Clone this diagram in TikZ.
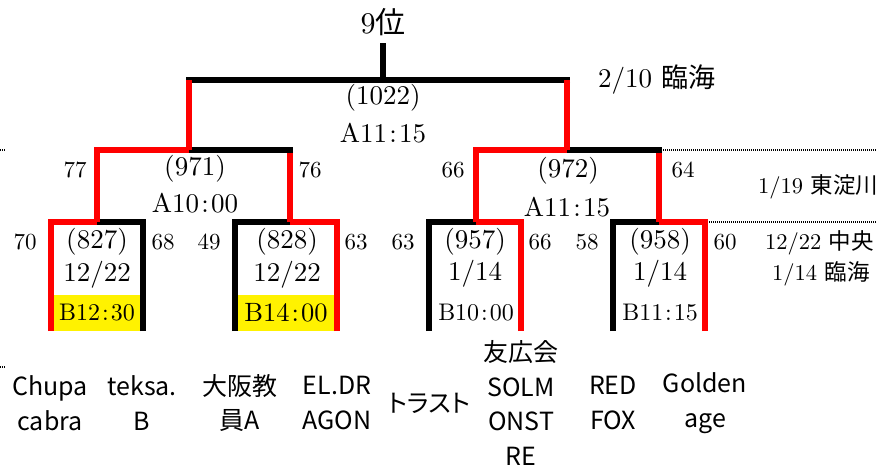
\documentclass[tikz,border=0pt]{standalone}
\usepackage{fontspec}
\setmainfont{lmroman10-regular.otf}
\newfontfamily\kanji{Noto Sans CJK JP}
\newfontfamily\teamfont[RawFeature=+palt]{Noto Sans CJK JP}
\usetikzlibrary{positioning}

\begin{document}
\begin{tikzpicture}[x=1pt, y=-1pt]

% Define styles
\tikzstyle{win} = [draw=red, line width=6pt]
\tikzstyle{lose} = [draw=black, line width=6pt]
\tikzstyle{rimline} = [draw=black, line width=1.4pt, dash pattern=on 1pt off 1pt]
\tikzstyle{score} = [font=\fontsize{23}{27}\selectfont, inner sep=0pt]
\tikzstyle{matchno} = [font=\fontsize{27}{32}\selectfont, inner sep=0pt]
\tikzstyle{slot} = [font=\fontsize{24}{28}\selectfont, inner sep=0pt]
\tikzstyle{early} = [fill=yellow, minimum height=36pt, inner sep=0pt]
\tikzstyle{venue} = [font=\fontsize{22.5}{27}\selectfont, anchor=west, inner sep=0pt]
\tikzstyle{team} = [font=\teamfont\fontsize{25}{34.5}\selectfont, align=center, inner sep=0pt]

\useasboundingbox (0,0) rectangle (877,467);

% Bracket points
\coordinate (l1) at (51,331);
\coordinate (l2) at (143,331);
\coordinate (l3) at (235,331);
\coordinate (l4) at (337,331);
\coordinate (l5) at (429,331);
\coordinate (l6) at (521,331);
\coordinate (l7) at (613,331);
\coordinate (l8) at (705,331);
\coordinate (m827) at (97,222);
\coordinate (m828) at (290,222);
\coordinate (m957) at (476,222);
\coordinate (m958) at (659,222);
\coordinate (m971) at (189,150);
\coordinate (m972) at (567,150);
\coordinate (m1022) at (383,80);
\coordinate (top) at (383,43);
\coordinate (rim1) at (877,150);
\coordinate (rim2) at (877,222);
\coordinate (edge1) at (0,150);
\coordinate (edge1b) at (5,150);
\coordinate (edge2) at (0,367);
\coordinate (edge2b) at (5,367);

% Day columns (dotted)
\draw [rimline] (m958 |- m972) -- (rim1);
\draw [rimline] (l8 |- m958) -- (rim2);
\draw [rimline] (edge1) -- (edge1b);
\draw [rimline] (edge2) -- (edge2b);

% First round
\node (s827) [slot, early, minimum width=86pt] at (97,313) {B12\kern.08em:\kern.08em30};
\node (s828) [slot, early, minimum width=96pt, font=\fontsize{26.5}{30}\selectfont] at (286,313) {B14\kern.08em:\kern.08em00};
\node (s957) [slot] at (476,313) {B10\kern.08em:\kern.08em00};
\node (s958) [slot] at (660,313) {B11\kern.08em:\kern.08em15};
\node (n827) [matchno] at (97,242) {(827)};
\node (d827) [matchno] at (97,275) {12/22};
\node (n828) [matchno] at (287,242) {(828)};
\node (d828) [matchno] at (287,275) {12/22};
\node (n957) [matchno] at (475,242) {(957)};
\node (d957) [matchno] at (475,274) {1/14};
\node (n958) [matchno] at (660,242) {(958)};
\node (d958) [matchno] at (660,274) {1/14};

\draw [lose] (l2) |- (m827);
\draw [win] (l1) |- (m827);
\draw [lose] (l3) |- (m828);
\draw [win] (l4) |- (m828);
\draw [lose] (l5) |- (m957);
\draw [win] (l6) |- (m957);
\draw [lose] (l7) |- (m958);
\draw [win] (l8) |- (m958);

% Second round
\node (n971) [matchno] at (195,169) {(971)};
\node (t971) [matchno] at (195,203) {A10\kern.08em:\kern.08em00};
\node (n972) [matchno] at (568,171) {(972)};
\node (t972) [matchno] at (567,207) {A11\kern.08em:\kern.08em15};

\draw [win] (m828) -- (m828 |- m971);
\draw [lose, shorten <=-3pt] (m828 |- m971) -- (m971);
\draw [win] (m827) |- (m971);
\draw [win] (m958) -- (m958 |- m972);
\draw [lose, shorten <=-3pt] (m958 |- m972) -- (m972);
\draw [win] (m957) |- (m972);

% Final
\node (rank) [matchno, font=\fontsize{30}{34}\selectfont] at (383,22) {9{\kanji 位}};
\node (n1022) [matchno] at (383,98) {(1022)};
\node (t1022) [matchno] at (383,133) {A11\kern.08em:\kern.08em15};
\node (day1022) [venue, font=\fontsize{27}{32}\selectfont] at (598,80) {2/10 {\kanji 臨海}};

\draw [lose, shorten <=-3pt] (m971 |- m1022) -- (m1022);
\draw [lose, shorten <=-3pt] (m972 |- m1022) -- (m1022);
\draw [win] (m971) -- (m971 |- m1022);
\draw [win] (m972) -- (m972 |- m1022);
\draw [lose] (m1022) -- (top);

% Scores
\node (p70) [score] at (25,242) {70};
\node (p68) [score] at (163,242) {68};
\node (p49) [score] at (209,242) {49};
\node (p63a) [score] at (356,242) {63};
\node (p63b) [score] at (403,242) {63};
\node (p66a) [score] at (540,242) {66};
\node (p58) [score] at (587,242) {58};
\node (p60) [score] at (725,242) {60};
\node (p77) [score] at (75,170) {77};
\node (p76) [score] at (310,170) {76};
\node (p66b) [score] at (453,170) {66};
\node (p64) [score] at (683,170) {64};

% Days and venues
\node (v1) [venue] at (758,187) {1/19 {\kanji 東淀川}};
\node (v2) [venue] at (765,243) {12/22 {\kanji 中央}};
\node (v3) [venue] at (772,274) {1/14 {\kanji 臨海}};

% Teams
\node (t1) [team] at (50,403) {Chupa\\cabra};
\node (t2) [team] at (142,403) {teksa.\\B};
\node (t3) [team] at (240,403) {大阪教\\員A};
\node (t4) [team] at (337,403) {EL.DR\\AGON};
\node (t5) [team] at (429,403) {トラスト};
\node (t6) [team] at (521,403) {友広会\\SOLM\\ONST\\RE};
\node (t7) [team] at (613,403) {RED\\FOX};
\node (t8) [team] at (705,403) {Golden\\age};

\end{tikzpicture}
\end{document}
